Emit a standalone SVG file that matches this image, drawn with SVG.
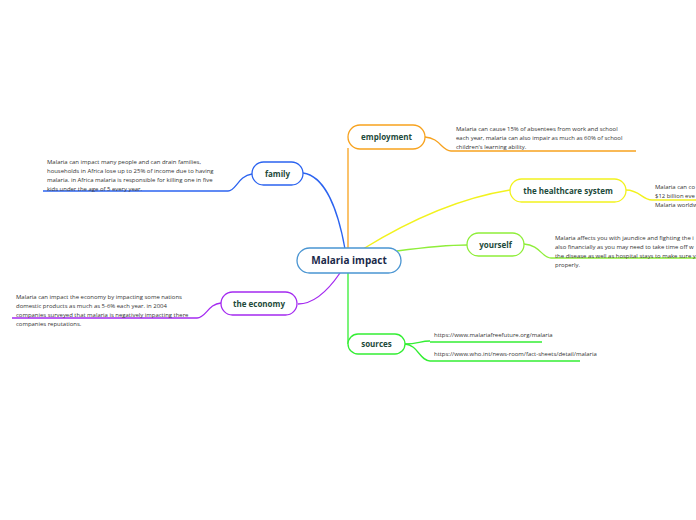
<svg xmlns="http://www.w3.org/2000/svg" width="696" height="520" viewBox="0 0 696 520">
<style>
.node{fill:#fff;stroke-width:1.3}
.lbl{font-family:"Open Sans","Noto Sans",sans-serif;font-weight:bold;font-size:8px;fill:#1d4a3a;text-anchor:middle}
.txt{font-family:"Open Sans","Noto Sans",sans-serif;font-size:5.95px;fill:#333}
.c{fill:none;stroke-width:1.3}
.u{fill:none;stroke-width:1.6}
</style>
<rect width="696" height="520" fill="#fff"/>
<g id="connectors">
<path class="c" stroke="#2b63f0" d="M303,173 C325,176 338,210 345,249"/>
<path class="c" stroke="#f7a21e" d="M348,148 L348,249"/>
<path class="c" stroke="#f2f21e" d="M363,249 C410,220 460,198 510,190"/>
<path class="c" stroke="#8fee3a" d="M397,251 C420,248 445,245 467,245"/>
<path class="c" stroke="#a42af0" d="M340,273 C325,295 312,304 298,304"/>
<path class="c" stroke="#33ee33" d="M348,273 L348,344"/>
<path class="c" stroke="#2b63f0" stroke-width="0.8" d="M252,174 C238,176 236,191 228,191"/>
<path class="c" stroke="#f7a21e" stroke-width="0.8" d="M425,137 C440,138 442,151 451,151"/>
<path class="c" stroke="#f2f21e" stroke-width="0.8" d="M626,190 C640,190 642,200 652,200"/>
<path class="c" stroke="#8fee3a" stroke-width="0.8" d="M524,244 C540,245 542,258 551,258"/>
<path class="c" stroke="#a42af0" stroke-width="0.8" d="M221,303 C208,304 206,318 197,318"/>
<path class="c" stroke="#33ee33" stroke-width="0.8" d="M405,344 C418,344 420,341 430,341"/>
<path class="c" stroke="#33ee33" stroke-width="0.8" d="M405,344 C418,345 420,361 430,361"/>
</g>
<g id="center">
<rect class="node" x="297" y="248" width="104" height="25" rx="12.5" stroke="#4a95d2" fill="#fbfdff"/>
<text x="349" y="264" class="lbl" style="font-size:10px;fill:#1a2a4a">Malaria impact</text>
</g>
<g id="employment">
<rect class="node" x="348" y="125" width="77" height="24" rx="12" stroke="#f7a21e"/>
<text x="386.5" y="140" class="lbl">employment</text>
<path class="u" stroke="#f7a21e" d="M451,151 L636,151"/>
<text class="txt"><tspan x="456" y="131">Malaria can cause 15% of absentees from work and school</tspan><tspan x="456" y="140">each year, malaria can also impair as much as 60% of school</tspan><tspan x="456" y="149">children's learning ability.</tspan></text>
</g>
<g id="healthcare">
<rect class="node" x="510" y="179" width="116" height="23" rx="11.5" stroke="#f2f21e"/>
<text x="568" y="193.5" class="lbl">the healthcare system</text>
<path class="u" stroke="#f2f21e" d="M652,200 L696,200"/>
<text class="txt"><tspan x="655" y="189">Malaria can co</tspan><tspan x="655" y="198">$12 billion eve</tspan><tspan x="655" y="207">Malaria worldw</tspan></text>
</g>
<g id="yourself">
<rect class="node" x="467" y="233" width="57" height="23" rx="11.5" stroke="#8fee3a"/>
<text x="495.5" y="247.5" class="lbl">yourself</text>
<path class="u" stroke="#8fee3a" d="M551,258 L696,258"/>
<text class="txt"><tspan x="555" y="240">Malaria affects you with jaundice and fighting the i</tspan><tspan x="555" y="249">also financially as you may need to take time off w</tspan><tspan x="555" y="258">the disease as well as hospital stays to make sure y</tspan><tspan x="555" y="267">properly.</tspan></text>
</g>
<g id="family">
<rect class="node" x="252" y="162" width="51" height="23" rx="11.5" stroke="#2b63f0"/>
<text x="277.5" y="176.5" class="lbl">family</text>
<path class="u" stroke="#2b63f0" d="M43,191 L228,191"/>
<text class="txt"><tspan x="47" y="164">Malaria can impact many people and can drain families,</tspan><tspan x="47" y="173">households in Africa lose up to 25% of income due to having</tspan><tspan x="47" y="182">malaria. in Africa malaria is responsible for killing one in five</tspan><tspan x="47" y="191">kids under the age of 5 every year.</tspan></text>
</g>
<g id="economy">
<rect class="node" x="221" y="292" width="76" height="23" rx="11.5" stroke="#a42af0"/>
<text x="259" y="306.5" class="lbl">the economy</text>
<path class="u" stroke="#a42af0" d="M12,318 L197,318"/>
<text class="txt"><tspan x="16" y="299">Malaria can impact the economy by  impacting some nations</tspan><tspan x="16" y="308">domestic products as much as 5-6% each year. in 2004</tspan><tspan x="16" y="317">companies surveyed that malaria is negatively impacting there</tspan><tspan x="16" y="326">companies reputations.</tspan></text>
</g>
<g id="sources">
<rect class="node" x="348" y="334" width="57" height="20" rx="10" stroke="#33ee33"/>
<text x="376.5" y="346.5" class="lbl">sources</text>
<path class="u" stroke="#33ee33" d="M430,342 L542,342"/>
<path class="u" stroke="#33ee33" d="M430,361 L580,361"/>
<text class="txt" x="434" y="337">https://www.malariafreefuture.org/malaria</text>
<text class="txt" x="434" y="356">https://www.who.int/news-room/fact-sheets/detail/malaria</text>
</g>
</svg>
